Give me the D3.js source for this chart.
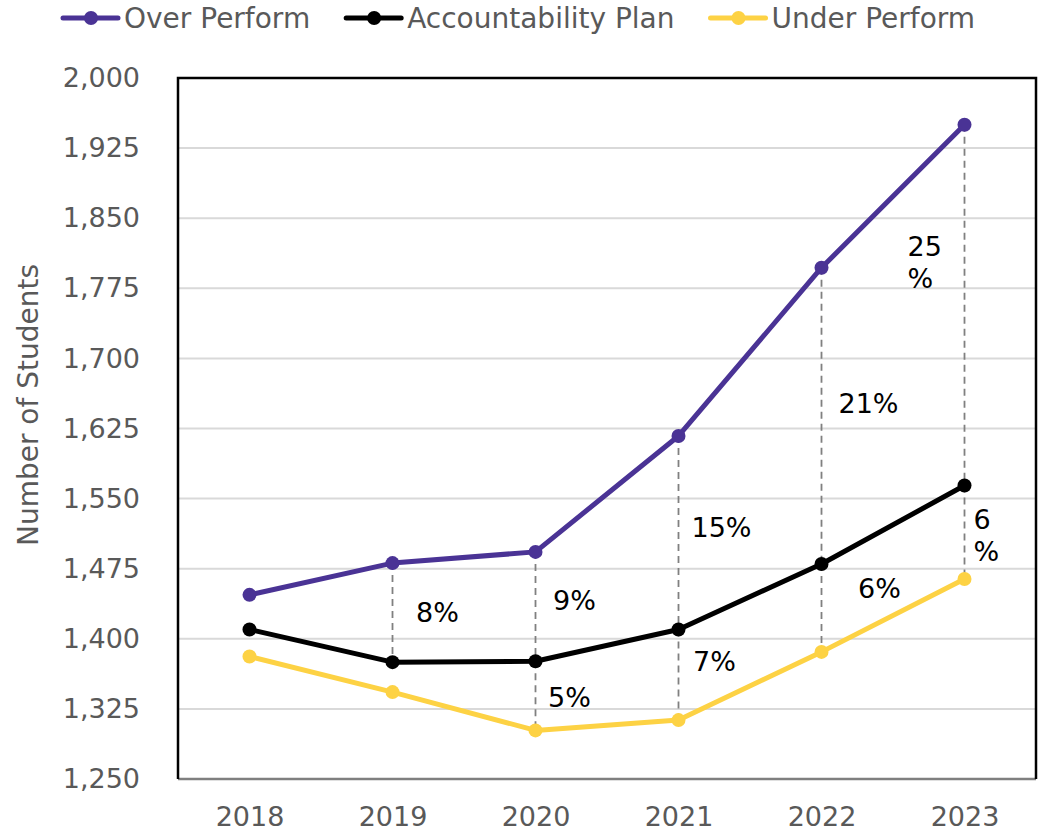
<!DOCTYPE html>
<html>
<head>
<meta charset="utf-8">
<script src="https://cdn.jsdelivr.net/npm/d3@7"></script>
<style>
  html, body { margin: 0; padding: 0; background: #fff; }
  svg { display: block; font-family: "DejaVu Sans", Verdana, sans-serif; }
</style>
</head>
<body>
<svg id="chart" width="1038" height="831"></svg>
<script>
// ---- data ----
const years = ["2018", "2019", "2020", "2021", "2022", "2023"];
const overPerform = [1447, 1481, 1493, 1617, 1797, 1950];
const accountabilityPlan = [1410, 1375, 1376, 1410, 1480, 1564];
const underPerform = [1381, 1343, 1302, 1313, 1386, 1464];
const upperLabels = [null, "8%", "9%", "15%", "21%", "25\n%"];
const lowerLabels = [null, null, "5%", "7%", "6%", "6\n%"];
const yTicks = [1250, 1325, 1400, 1475, 1550, 1625, 1700, 1775, 1850, 1925, 2000];
const seriesNames = ["Over Perform", "Accountability Plan", "Under Perform"];
const seriesColors = ["#4A3395", "#000000", "#FDD244"];

// ---- layout ----
const svg = d3.select("#chart");
const L = 178, R = 1036, T = 78, B = 779;

const x = d3.scalePoint().domain(years).range([L, R]).padding(0.5);
const y = d3.scaleLinear().domain([1250, 2000]).range([B, T]);

// gridlines
svg.append("g").selectAll("line").data(yTicks.filter(t => t > 1250 && t < 2000)).join("line")
  .attr("x1", L).attr("x2", R)
  .attr("y1", d => y(d)).attr("y2", d => y(d))
  .attr("stroke", "#D9D9D9").attr("stroke-width", 2);

// y axis
const yAxis = svg.append("g").attr("transform", `translate(${L},0)`)
  .call(d3.axisLeft(y).tickValues(yTicks).tickSize(0).tickPadding(38).tickFormat(d3.format(",")));
yAxis.select(".domain").remove();
yAxis.selectAll("text").attr("font-size", 27).attr("fill", "#595959")
  .attr("font-family", "DejaVu Sans, Verdana, sans-serif");

// x axis
const xAxis = svg.append("g").attr("transform", `translate(0,${B})`)
  .call(d3.axisBottom(x).tickSize(0).tickPadding(28));
xAxis.select(".domain").remove();
xAxis.selectAll("text").attr("font-size", 27).attr("fill", "#595959")
  .attr("font-family", "DejaVu Sans, Verdana, sans-serif");

// frame
svg.append("line").attr("x1", L).attr("x2", R).attr("y1", B).attr("y2", B)
  .attr("stroke", "#7F7F7F").attr("stroke-width", 2.5);
svg.append("path")
  .attr("d", `M${L},${B} L${L},${T} L${R},${T} L${R},${B}`)
  .attr("fill", "none").attr("stroke", "#000").attr("stroke-width", 2.5);

// y title
svg.append("text")
  .attr("transform", `translate(38,405) rotate(-90)`)
  .attr("text-anchor", "middle")
  .attr("font-size", 28).attr("fill", "#595959")
  .text("Number of Students");

// dashed drop lines
const dropG = svg.append("g");
years.forEach((yr, i) => {
  if (upperLabels[i]) {
    dropG.append("line").attr("x1", x(yr)).attr("x2", x(yr))
      .attr("y1", y(overPerform[i])).attr("y2", y(accountabilityPlan[i]))
      .attr("stroke", "#808080").attr("stroke-width", 1.8).attr("stroke-dasharray", "7,5");
  }
  if (lowerLabels[i]) {
    dropG.append("line").attr("x1", x(yr)).attr("x2", x(yr))
      .attr("y1", y(accountabilityPlan[i])).attr("y2", y(underPerform[i]))
      .attr("stroke", "#808080").attr("stroke-width", 1.8).attr("stroke-dasharray", "7,5");
  }
});

// series lines
const allSeries = [overPerform, accountabilityPlan, underPerform];
const lineGen = d3.line().x((d, i) => x(years[i])).y(d => y(d));
allSeries.slice().reverse().forEach((vals, ri) => {
  const k = allSeries.length - 1 - ri;
  const g = svg.append("g");
  g.append("path").datum(vals).attr("d", lineGen)
    .attr("fill", "none").attr("stroke", seriesColors[k]).attr("stroke-width", 5)
    .attr("stroke-linejoin", "round");
  g.selectAll("circle").data(vals).join("circle")
    .attr("cx", (d, i) => x(years[i])).attr("cy", d => y(d)).attr("r", 7)
    .attr("fill", seriesColors[k]);
});

// labels (offsets from midpoint of the gap, in px)
const upperOff = { "2019": [45, 0], "2020": [39, -6], "2021": [43, -5], "2022": [47, -13], "2023": [-42, -43] };
const lowerOff = { "2020": [34, 1], "2021": [36, -14], "2022": [58, -20], "2023": [24, 3] };
function drawLabel(txt, cx, cy) {
  const lines = txt.split("\n");
  const lh = 32;
  const t = svg.append("text").attr("font-size", 27).attr("fill", "#000")
    .attr("text-anchor", lines.length > 1 ? "start" : "middle");
  lines.forEach((ln, j) => {
    t.append("tspan")
      .attr("x", lines.length > 1 ? cx - 15 : cx)
      .attr("y", cy + (j - (lines.length - 1) / 2) * lh)
      .attr("dy", "0.36em")
      .text(ln);
  });
}
years.forEach((yr, i) => {
  if (upperLabels[i]) {
    const mid = (y(overPerform[i]) + y(accountabilityPlan[i])) / 2;
    const o = upperOff[yr];
    drawLabel(upperLabels[i], x(yr) + o[0], mid + o[1]);
  }
  if (lowerLabels[i]) {
    const mid = (y(accountabilityPlan[i]) + y(underPerform[i])) / 2;
    const o = lowerOff[yr];
    drawLabel(lowerLabels[i], x(yr) + o[0], mid + o[1]);
  }
});

// legend
const leg = svg.append("g");
let lx = 63;
const ly = 18;
seriesNames.forEach((name, k) => {
  leg.append("line").attr("x1", lx).attr("x2", lx + 55).attr("y1", ly).attr("y2", ly)
    .attr("stroke", seriesColors[k]).attr("stroke-width", 5).attr("stroke-linecap", "round");
  leg.append("circle").attr("cx", lx + 28).attr("cy", ly).attr("r", 7).attr("fill", seriesColors[k]);
  const t = leg.append("text").attr("x", lx + 61).attr("y", ly).attr("dy", "0.36em")
    .attr("font-size", 28).attr("fill", "#595959").text(name);
  lx = lx + 61 + t.node().getComputedTextLength() + 36;
});
</script>
</body>
</html>
